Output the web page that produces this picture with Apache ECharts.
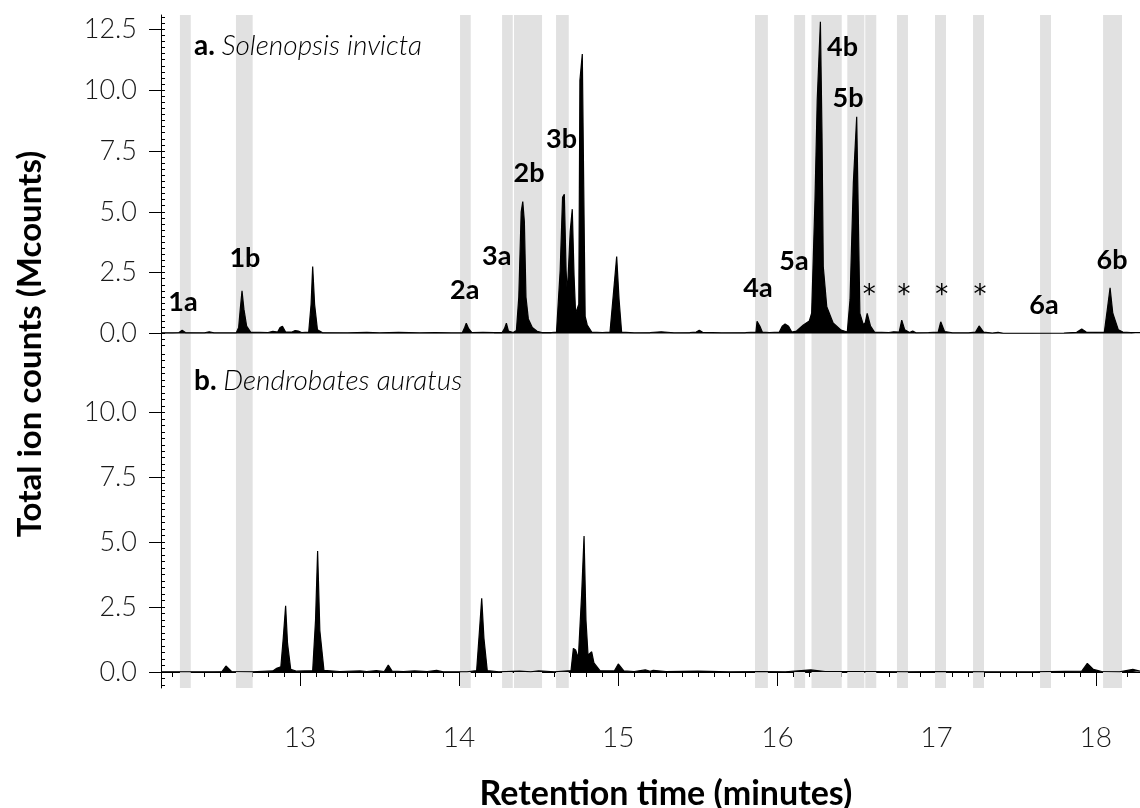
<!DOCTYPE html>
<html>
<head>
<meta charset="utf-8">
<script src="https://cdn.jsdelivr.net/npm/echarts@6/dist/echarts.min.js"></script>
<style>
  html, body { margin: 0; padding: 0; background: #fff; }
  #chart { width: 1140px; height: 808px; }
</style>
</head>
<body>
<div id="chart"></div>
<script>
// retention time range shown on the x axis (minutes)
const xMin = 12.127
const xMax = 18.278
const xMajor = [13, 14, 15, 16, 17, 18]

const yMajorA = [0, 2.5, 5, 7.5, 10, 12.5]
const yMajorB = [0, 2.5, 5, 7.5, 10]

// grey retention windows
const bandStart = [12.246, 12.598, 14.006, 14.270, 14.345, 14.609, 15.859, 16.105, 16.214, 16.439, 16.552, 16.751, 16.990, 17.229, 17.650, 18.046]
const bandEnd   = [12.314, 12.703, 14.073, 14.337, 14.521, 14.689, 15.940, 16.174, 16.404, 16.546, 16.621, 16.820, 17.059, 17.298, 17.719, 18.165]

// a. Solenopsis invicta  [minutes, Mcounts]
const traceA = [
  [12.127, 0.03], [12.20, 0.03], [12.24, 0.04], [12.26, 0.13], [12.28, 0.04], [12.40, 0.03], [12.43, 0.07], [12.46, 0.03],
  [12.60, 0.03], [12.615, 0.25], [12.625, 1.0], [12.636, 1.75], [12.648, 1.0], [12.665, 0.3], [12.69, 0.06],
  [12.80, 0.04], [12.83, 0.09], [12.86, 0.06], [12.875, 0.25], [12.89, 0.3], [12.91, 0.06], [12.95, 0.06], [12.97, 0.12],
  [12.99, 0.1], [13.01, 0.04], [13.055, 0.06], [13.07, 1.2], [13.08, 2.75], [13.092, 1.2], [13.11, 0.15], [13.14, 0.04],
  [13.30, 0.03], [13.42, 0.05], [13.50, 0.03], [13.62, 0.05], [13.75, 0.03], [13.85, 0.04], [13.95, 0.03],
  [14.02, 0.03], [14.035, 0.25], [14.045, 0.42], [14.06, 0.2], [14.08, 0.04], [14.15, 0.05], [14.22, 0.04], [14.27, 0.04],
  [14.285, 0.2], [14.297, 0.42], [14.31, 0.1], [14.34, 0.04], [14.36, 0.12], [14.375, 1.5], [14.39, 5.0], [14.40, 5.42],
  [14.41, 4.6], [14.42, 1.5], [14.435, 0.6], [14.46, 0.25], [14.49, 0.09], [14.52, 0.04], [14.58, 0.04],
  [14.612, 0.06], [14.635, 2.6], [14.650, 5.6], [14.661, 5.72], [14.672, 2.6], [14.680, 1.65], [14.698, 4.2],
  [14.711, 5.11], [14.722, 2.4], [14.732, 0.83], [14.752, 1.2], [14.759, 10.4], [14.774, 11.48], [14.783, 6.0],
  [14.792, 0.7], [14.805, 0.35], [14.833, 0.06], [14.90, 0.04], [14.948, 0.06], [14.969, 1.6], [14.99, 3.16],
  [15.005, 1.4], [15.021, 0.06], [15.10, 0.03], [15.20, 0.04], [15.27, 0.07], [15.35, 0.03], [15.45, 0.04],
  [15.49, 0.06], [15.509, 0.13], [15.53, 0.05], [15.65, 0.03], [15.80, 0.04], [15.865, 0.06], [15.872, 0.5],
  [15.88, 0.58], [15.89, 0.3], [15.905, 0.06], [15.95, 0.04], [16.012, 0.06], [16.03, 0.3], [16.048, 0.39],
  [16.07, 0.3], [16.09, 0.06], [16.12, 0.1], [16.163, 0.35], [16.20, 0.51], [16.215, 0.83], [16.236, 5.5],
  [16.25, 9.6], [16.27, 12.81], [16.28, 8.2], [16.288, 2.75], [16.31, 1.1], [16.35, 0.43], [16.40, 0.14],
  [16.439, 0.06], [16.456, 1.38], [16.477, 6.2], [16.498, 8.91], [16.51, 4.1], [16.518, 0.83], [16.54, 0.35],
  [16.552, 0.45], [16.564, 0.83], [16.585, 0.3], [16.61, 0.06], [16.70, 0.04], [16.73, 0.07], [16.765, 0.06],
  [16.781, 0.55], [16.80, 0.15], [16.83, 0.04], [16.85, 0.1], [16.87, 0.03], [16.95, 0.04], [17.01, 0.06],
  [17.026, 0.48], [17.05, 0.08], [17.10, 0.03], [17.20, 0.03], [17.245, 0.06], [17.267, 0.31], [17.295, 0.06],
  [17.35, 0.02], [17.386, 0.05], [17.42, 0.01], [17.60, 0.01], [17.80, 0.02], [17.88, 0.05], [17.912, 0.18],
  [17.94, 0.06], [18.00, 0.05], [18.054, 0.06], [18.073, 1.0], [18.09, 1.88], [18.107, 0.83], [18.142, 0.15],
  [18.17, 0.06], [18.22, 0.04], [18.278, 0.04]
]

// b. Dendrobates auratus  [minutes, Mcounts]
const traceB = [
  [12.127, 0.01], [12.30, 0.01], [12.45, 0.01], [12.51, 0.02], [12.535, 0.23], [12.57, 0.02], [12.70, 0.01],
  [12.83, 0.04], [12.854, 0.14], [12.88, 0.2], [12.895, 1.3], [12.91, 2.55], [12.922, 1.1], [12.942, 0.1],
  [12.98, 0.03], [13.08, 0.05], [13.098, 2.0], [13.111, 4.66], [13.125, 1.6], [13.151, 0.06], [13.25, 0.02],
  [13.377, 0.04], [13.42, 0.02], [13.48, 0.05], [13.53, 0.02], [13.555, 0.27], [13.58, 0.03], [13.65, 0.02],
  [13.72, 0.04], [13.80, 0.02], [13.859, 0.06], [13.90, 0.01], [14.05, 0.01], [14.11, 0.05], [14.128, 1.6],
  [14.142, 2.84], [14.156, 1.3], [14.177, 0.05], [14.25, 0.01], [14.38, 0.03], [14.45, 0.01], [14.50, 0.04],
  [14.60, 0.01], [14.703, 0.05], [14.718, 0.91], [14.732, 0.85], [14.749, 0.53], [14.77, 3.0], [14.785, 5.24],
  [14.797, 2.0], [14.81, 0.65], [14.833, 0.78], [14.847, 0.35], [14.885, 0.05], [14.975, 0.04], [15.0, 0.31],
  [15.035, 0.04], [15.10, 0.02], [15.17, 0.08], [15.20, 0.03], [15.22, 0.06], [15.30, 0.02], [15.50, 0.03],
  [15.70, 0.01], [15.90, 0.02], [16.05, 0.01], [16.21, 0.08], [16.30, 0.02], [16.60, 0.02], [16.80, 0.01],
  [17.0, 0.02], [17.30, 0.01], [17.60, 0.01], [17.912, 0.03], [17.947, 0.33], [17.985, 0.1], [18.038, 0.02],
  [18.15, 0.01], [18.233, 0.1], [18.278, 0.03]
]

// peak labels in panel a
const peakNames   = ['1a', '1b', '2a', '3a', '2b', '3b', '4a', '5a', '4b', '5b', '6a', '6b']
const peakTimes   = [12.265, 12.654, 14.035, 14.236, 14.439, 14.644, 15.878, 16.104, 16.409, 16.444, 17.675, 18.102]
const peakHeights = [1.29, 3.10, 1.79, 3.16, 6.59, 7.98, 1.87, 2.95, 11.78, 9.66, 1.17, 3.02]
const starTimes   = [16.577, 16.795, 17.032, 17.273]
const starHeight  = 1.55

const FONT = 'Lato, "Open Sans", sans-serif'
const INK = '#000'

const minorRange = (from, to, step) => {
  const out = []
  for (let v = from; v <= to + 1e-9; v += step) out.push(Math.round(v * 100) / 100)
  return out
}

const bands = bandStart.map((s, i) => [{ xAxis: s }, { xAxis: bandEnd[i] }])

const majorY = (grid, ticks, min, max) => ({
  type: 'value', gridIndex: grid, min, max, position: 'left',
  axisLine: { show: true, lineStyle: { color: INK, width: 1 } },
  axisTick: { show: true, length: 12, lineStyle: { color: INK }, customValues: ticks },
  axisLabel: {
    customValues: ticks, margin: 24, color: '#1a1a1a', fontFamily: FONT, fontWeight: 300, fontSize: 27,
    formatter: v => Number(v).toFixed(1),
  },
  splitLine: { show: false },
})

const minorY = (grid, min, max, from, to) => ({
  type: 'value', gridIndex: grid, min, max, position: 'left',
  axisLine: { show: false },
  axisTick: { show: true, inside: true, length: 4, lineStyle: { color: INK }, customValues: minorRange(from, to, 0.25) },
  axisLabel: { show: false },
  splitLine: { show: false },
})

const panelTitle = (letter, species, top) => ({
  left: 189, top,
  text: '{b|' + letter + '}{n|. }{i|' + species + '}',
  textStyle: {
    rich: {
      b: { fontFamily: FONT, fontWeight: 'bold', fontSize: 28, color: INK },
      n: { fontFamily: FONT, fontSize: 28, color: INK },
      i: { fontFamily: FONT, fontStyle: 'italic', fontWeight: 300, fontSize: 28, color: INK },
    },
  },
})

const chart = echarts.init(document.getElementById('chart'))

chart.setOption({
  animation: false,
  backgroundColor: '#fff',
  grid: [
    { left: 161, right: 0, top: 15, height: 334 },
    { left: 161, right: 0, top: 349, height: 339 },
  ],
  title: [
    panelTitle('a', 'Solenopsis invicta', 27),
    panelTitle('b', 'Dendrobates auratus', 362),
  ],
  graphic: [
    {
      type: 'text', x: 30, y: 344, rotation: Math.PI / 2,
      style: {
        text: 'Total ion counts (Mcounts)', fill: INK, font: 'bold 33px ' + FONT,
        textAlign: 'center', textVerticalAlign: 'middle',
      },
    },
    {
      type: 'text', x: 666, y: 794,
      style: {
        text: 'Retention time (minutes)', fill: INK, font: 'bold 34px ' + FONT,
        textAlign: 'center', textVerticalAlign: 'middle',
      },
    },
  ],
  xAxis: [
    { type: 'value', gridIndex: 0, min: xMin, max: xMax, show: false },
    {
      type: 'value', gridIndex: 1, min: xMin, max: xMax, position: 'bottom',
      axisLine: { show: true, lineStyle: { color: INK, width: 1 } },
      axisTick: { show: true, length: 14, lineStyle: { color: INK }, customValues: xMajor },
      axisLabel: { customValues: xMajor, margin: 36, color: '#1a1a1a', fontFamily: FONT, fontWeight: 300, fontSize: 28 },
      splitLine: { show: false },
    },
    {
      type: 'value', gridIndex: 1, min: xMin, max: xMax, position: 'bottom',
      axisLine: { show: false },
      axisTick: { show: true, length: 5, lineStyle: { color: INK }, customValues: minorRange(12.2, 18.2, 0.1) },
      axisLabel: { show: false },
      splitLine: { show: false },
    },
  ],
  yAxis: [
    majorY(0, yMajorA, -0.637, 13.088),
    minorY(0, -0.637, 13.088, -0.5, 13.0),
    majorY(1, yMajorB, -0.616, 12.437),
    minorY(1, -0.616, 12.437, -0.5, 12.25),
  ],
  series: [
    {
      type: 'line', xAxisIndex: 0, yAxisIndex: 0, data: traceA,
      showSymbol: false, smooth: false, z: 3,
      lineStyle: { color: '#000', width: 1.2 },
      areaStyle: { color: '#000', opacity: 1 },
      markArea: { silent: true, itemStyle: { color: '#e1e1e1' }, data: bands },
    },
    {
      type: 'line', xAxisIndex: 1, yAxisIndex: 2, data: traceB,
      showSymbol: false, smooth: false, z: 3,
      lineStyle: { color: '#000', width: 1.2 },
      areaStyle: { color: '#000', opacity: 1 },
      markArea: { silent: true, itemStyle: { color: '#e1e1e1' }, data: bands },
    },
    {
      type: 'scatter', xAxisIndex: 0, yAxisIndex: 0, symbolSize: 1, z: 5, silent: true,
      itemStyle: { color: '#fff', opacity: 1 },
      data: peakNames.map((n, i) => ({ name: n, value: [peakTimes[i], peakHeights[i]] })),
      label: {
        show: true, position: 'inside', formatter: '{b}', opacity: 1, textBorderWidth: 0,
        fontFamily: FONT, fontWeight: 'bold', fontSize: 27, color: INK,
      },
    },
    {
      type: 'scatter', xAxisIndex: 0, yAxisIndex: 0, symbolSize: 1, z: 5, silent: true,
      itemStyle: { color: '#fff', opacity: 1 },
      data: starTimes.map(t => ({ name: '*', value: [t, starHeight] })),
      label: {
        show: true, position: 'inside', formatter: '{b}', opacity: 1, textBorderWidth: 0,
        fontFamily: '"DejaVu Sans", sans-serif', fontSize: 26, color: INK,
      },
    },
  ],
})
</script>
</body>
</html>
